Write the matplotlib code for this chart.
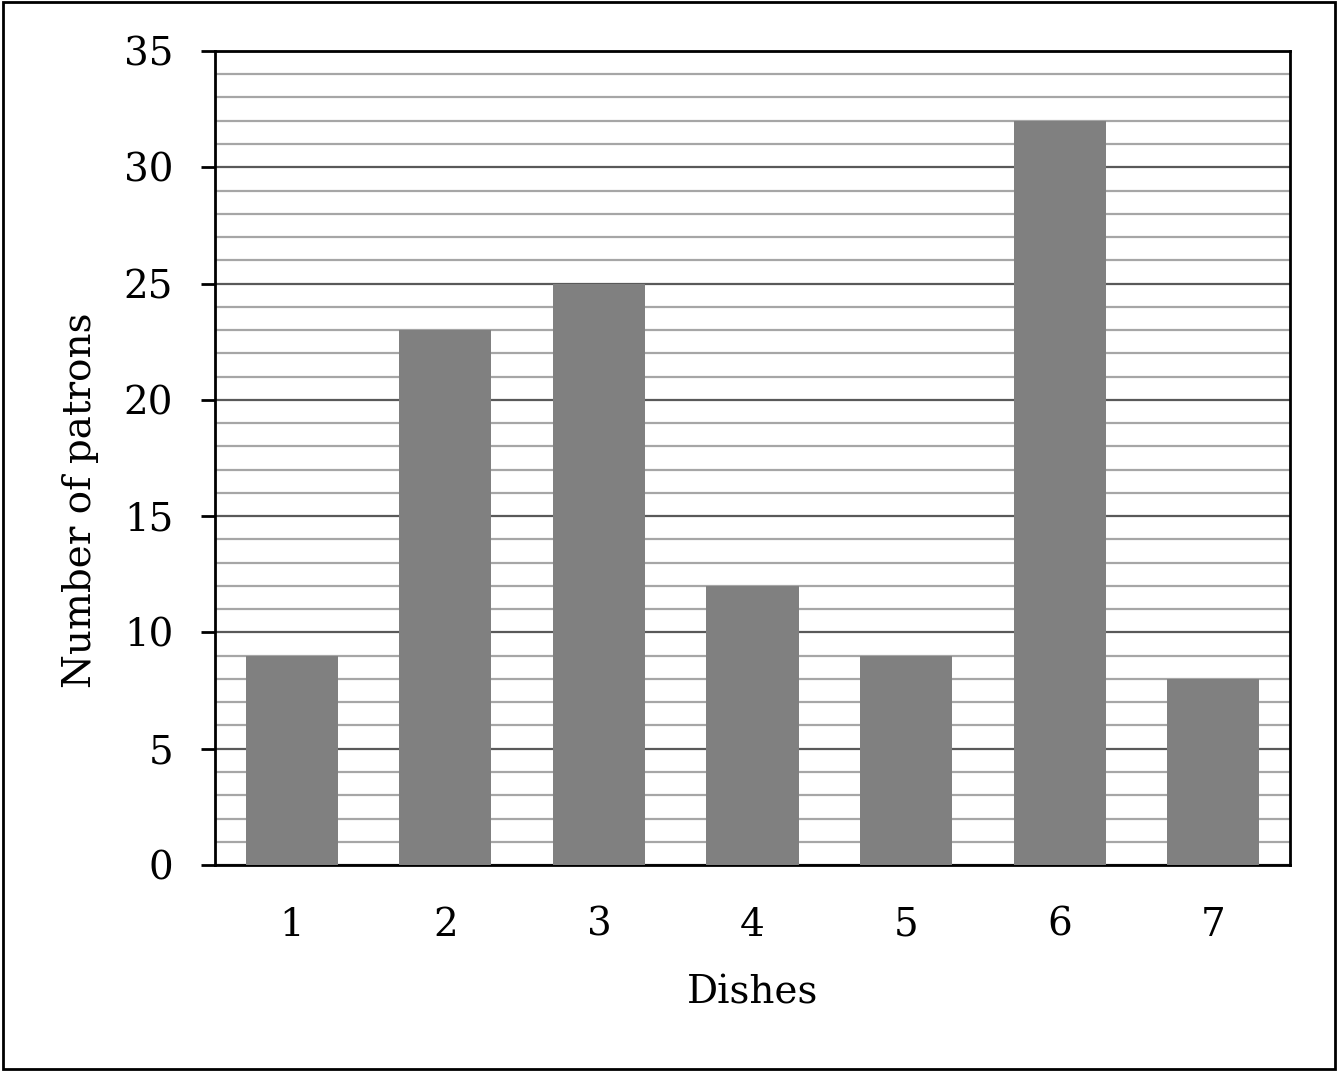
import matplotlib
matplotlib.use("Agg")
import matplotlib.pyplot as plt
from matplotlib.patches import Rectangle
from matplotlib.ticker import MultipleLocator

dishes = ["1", "2", "3", "4", "5", "6", "7"]
patrons = [9, 23, 25, 12, 9, 32, 8]

plt.rcParams["font.family"] = ["DejaVu Serif"]

fig = plt.figure(figsize=(13.38, 10.71), dpi=100)
ax = fig.add_axes([0.1607, 0.1923, 0.8034, 0.7601])

x = range(len(dishes))
ax.bar(x, patrons, width=0.6, color="#808080", zorder=3)

ax.set_xlim(-0.5, len(dishes) - 0.5)
ax.set_ylim(0, 35)
ax.yaxis.set_major_locator(MultipleLocator(5))
ax.yaxis.set_minor_locator(MultipleLocator(1))
ax.set_xticks(list(x))
ax.set_xticklabels(dishes)

ax.grid(True, which="major", axis="y", color="#595959", linewidth=1.6, zorder=1)
ax.grid(True, which="minor", axis="y", color="#a6a6a6", linewidth=1.6, zorder=1)
ax.set_axisbelow(True)

for s in ax.spines.values():
    s.set_linewidth(2)
    s.set_color("black")

ax.tick_params(axis="y", which="major", length=10, width=2, labelsize=28, pad=20)
ax.tick_params(axis="y", which="minor", length=0)
ax.tick_params(axis="x", length=0, labelsize=28, pad=30)

ax.set_xlabel("Dishes", fontsize=28, labelpad=22)
ax.set_ylabel("Number of patrons", fontsize=28)
ax.yaxis.set_label_coords(-0.108, 0.448)

fig.patches.append(Rectangle((0.002, 0.002), 0.996, 0.996, transform=fig.transFigure,
                             fill=False, edgecolor="black", linewidth=2))

fig.savefig("out.png", dpi=100)
